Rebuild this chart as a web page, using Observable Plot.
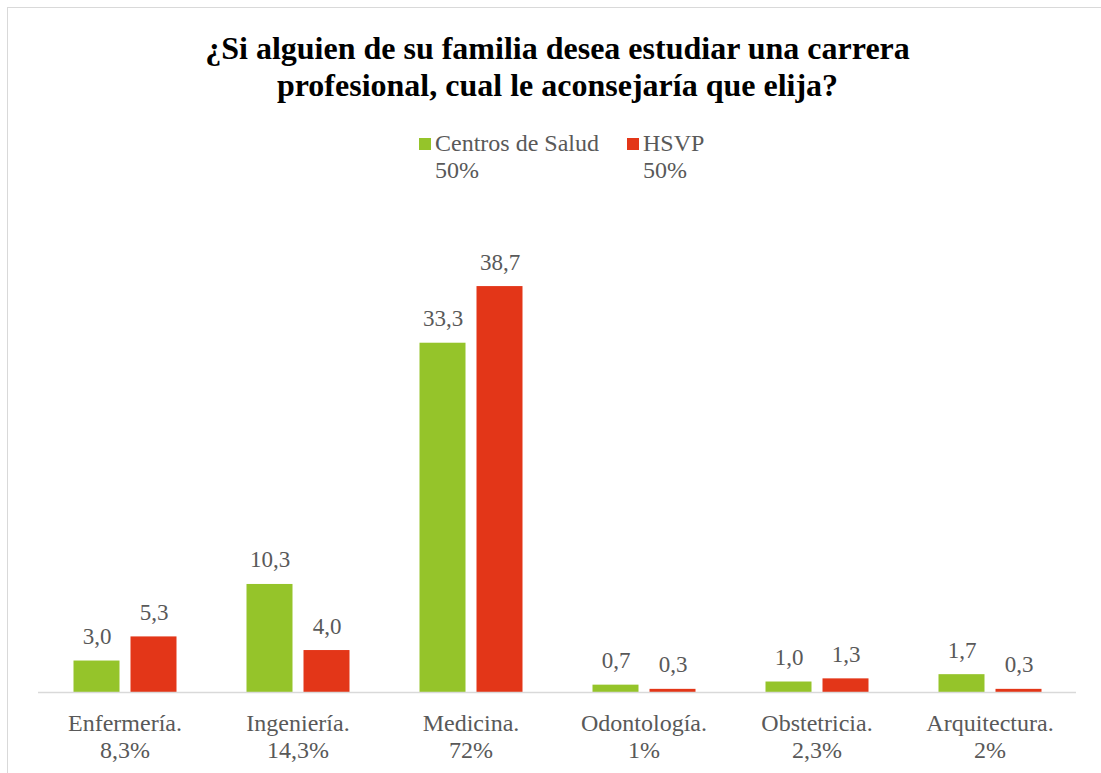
<!DOCTYPE html>
<html>
<head>
<meta charset="utf-8">
<script src="https://cdn.jsdelivr.net/npm/d3@7"></script>
<script src="https://cdn.jsdelivr.net/npm/@observablehq/plot@0.6"></script>
<style>
  html, body { margin: 0; padding: 0; background: #fff; }
  #wrap { position: relative; width: 1101px; height: 773px; overflow: hidden; font-family: "Liberation Serif", "DejaVu Serif", serif; color: #595959; }
  #border { position: absolute; left: 7px; top: 7px; width: 1200px; height: 900px; border: 1.5px solid #d9d9d9; box-sizing: border-box; }
  #title { position: absolute; left: 0; top: 30px; width: 1115px; text-align: center; font-weight: bold; font-size: 32px; line-height: 37px; color: #000; }
  .leg { position: absolute; top: 130px; font-size: 24px; line-height: 27px; }
  .sw { position: absolute; top: 8px; width: 12px; height: 12px; }
  #chart { position: absolute; left: 0; top: 200px; }
  #chart svg text { font-family: "Liberation Serif", "DejaVu Serif", serif; }
</style>
</head>
<body>
<div id="wrap">
  <div id="border"></div>
  <div id="title"></div>
  <div id="legend"></div>
  <div id="chart"></div>
</div>
<script>
const title = ["¿Si alguien de su familia desea estudiar una carrera", "profesional, cual le aconsejaría que elija?"];
const categories = ["Enfermería.", "Ingeniería.", "Medicina.", "Odontología.", "Obstetricia.", "Arquitectura."];
const categoryPct = ["8,3%", "14,3%", "72%", "1%", "2,3%", "2%"];
const series = ["Centros de Salud", "HSVP"];
const seriesPct = ["50%", "50%"];
const colors = ["#95c42a", "#e33618"];
const centrosValues = [3.0, 10.3, 33.3, 0.7, 1.0, 1.7];
const hsvpValues = [5.3, 4.0, 38.7, 0.3, 1.3, 0.3];

document.getElementById("title").innerHTML = title.join("<br>");

const legend = document.getElementById("legend");
const legendX = [419, 627];
series.forEach((s, i) => {
  const d = document.createElement("div");
  d.className = "leg";
  d.style.left = (legendX[i]) + "px";
  d.innerHTML = `<div class="sw" style="background:${colors[i]}"></div><div style="margin-left:16px">${s}<br>${seriesPct[i]}</div>`;
  legend.appendChild(d);
});

const data = [];
categories.forEach((c, i) => {
  data.push({cat: c, series: series[0], value: centrosValues[i]});
  data.push({cat: c, series: series[1], value: hsvpValues[i]});
});
const catLabels = categories.map((c, i) => ({cat: c, label: c + "\n" + categoryPct[i]}));
const fmt = v => d3.format(".1f")(v).replace(".", ",");

const chart = Plot.plot({
  width: 1101,
  height: 573,
  marginLeft: 37.5,
  marginRight: 25.5,
  marginTop: 20,
  marginBottom: 81,
  style: {fontFamily: "'Liberation Serif', 'DejaVu Serif', serif", background: "transparent"},
  fx: {domain: categories, padding: 0, axis: null},
  x: {domain: series, paddingInner: 0.193, paddingOuter: 0.614, axis: null},
  y: {domain: [0, 45], axis: null},
  color: {domain: series, range: colors},
  marks: [
    Plot.barY(data, {fx: "cat", x: "series", y: "value", fill: "series"}),
    Plot.ruleY([0], {stroke: "#d9d9d9", strokeWidth: 1.5}),
    Plot.text(data, {fx: "cat", x: "series", y: "value", text: d => fmt(d.value), lineAnchor: "bottom", dy: -17, fontSize: 23, fill: "#595959"}),
    Plot.text(catLabels, {fx: "cat", text: "label", frameAnchor: "bottom", lineAnchor: "top", dy: 19, lineHeight: 1.13, fontSize: 24, fill: "#595959"})
  ]
});
document.getElementById("chart").appendChild(chart);
</script>
</body>
</html>
